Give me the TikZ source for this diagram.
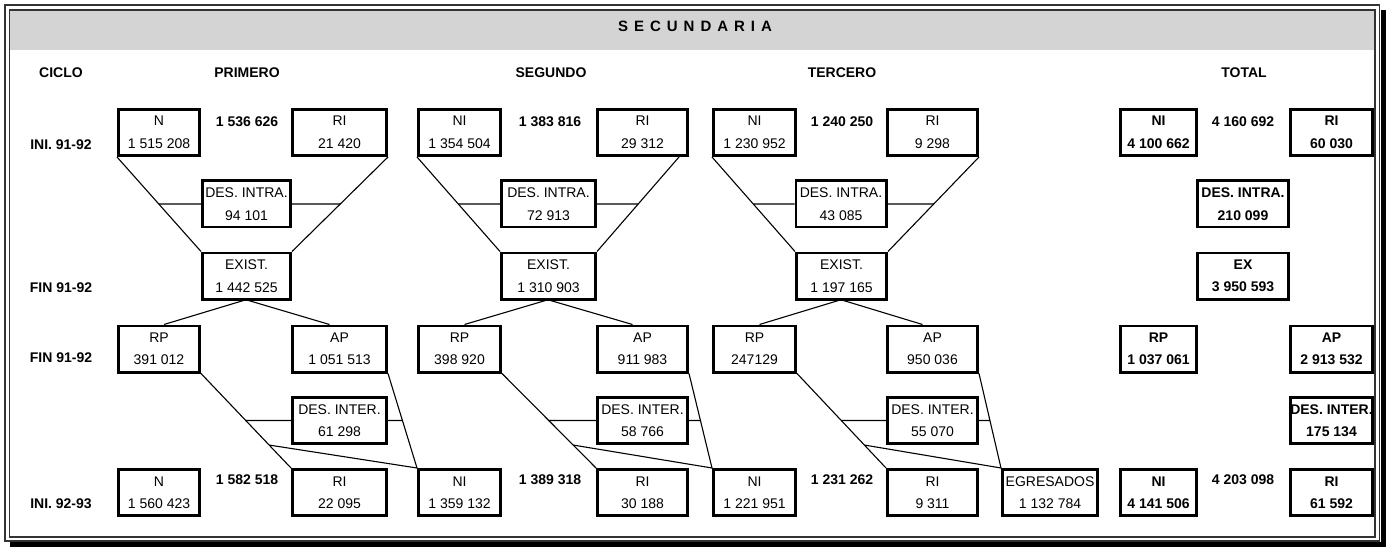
\documentclass[tikz,border=0pt]{standalone}
\usepackage{fontspec}
\setmainfont{Liberation Sans}
\begin{document}
\begin{tikzpicture}[x=1pt,y=-1pt,
  box/.style={draw, line width=2.6pt, inner sep=0pt, minimum height=46.4pt,
    align=center, font=\fontsize{14}{22.5}\selectfont},
  tbox/.style={box, font=\fontsize{14}{22.5}\selectfont\bfseries},
  lbl/.style={inner sep=0pt, font=\fontsize{14}{16}\selectfont\bfseries},
  sum/.style={inner sep=0pt, font=\fontsize{14}{16}\selectfont\bfseries},
  link/.style={line width=1.1pt},
  frameline/.style={line width=1.2pt, draw=black!80},
]
\useasboundingbox (0,0) rectangle (1392,548);

% frame with drop shadow and grey title band
\fill[black] (10,10) rectangle (1386,547);
\fill[white] (3,3) rectangle (1380.8,542.2);
\fill[black!17] (9.5,10) rectangle (1375,50);
\draw[frameline] (5,5) rectangle (1379.5,541);
\draw[frameline] (9.5,10) rectangle (1375,537);
\node[inner sep=0pt, font=\fontsize{15}{17}\selectfont\bfseries] (title) at (695,26)
  {S\kern6pt E\kern6pt C\kern6pt U\kern6pt N\kern6pt D\kern6pt A\kern6pt R\kern6pt I\kern6pt A};

% column and row headings
\node[lbl] (hciclo) at (61,73) {CICLO};
\node[lbl] (hpri) at (247,73) {PRIMERO};
\node[lbl] (hseg) at (551,73) {SEGUNDO};
\node[lbl] (hter) at (842,73) {TERCERO};
\node[lbl] (htot) at (1244,73) {TOTAL};
\node[lbl] (rini1) at (61,145) {INI. 91-92};
\node[lbl] (rfin1) at (61,288) {FIN 91-92};
\node[lbl] (rfin2) at (61,358) {FIN 91-92};
\node[lbl] (rini2) at (61,504) {INI. 92-93};

% ---------- PRIMERO ----------
\node[box, minimum width=81.4pt] (ni1) at (159,132.5) {N\\1 515 208};
\node[sum] (s1a) at (247,122) {1 536 626};
\node[box, minimum width=94.4pt] (ri1) at (339.5,132.5) {RI\\21 420};
\node[box, minimum width=88.4pt] (di1) at (246.5,204) {DES. INTRA.\\94 101};
\node[box, minimum width=88.4pt] (ex1) at (246.5,276) {EXIST.\\1 442 525};
\node[box, minimum width=81.4pt] (rp1) at (159,349) {RP\\391 012};
\node[box, minimum width=94.4pt] (ap1) at (339.5,349) {AP\\1 051 513};
\node[box, minimum width=94.4pt] (de1) at (339.5,420.5) {DES. INTER.\\61 298};
\node[box, minimum width=81.4pt] (nb1) at (159,492.5) {N\\1 560 423};
\node[sum] (s1b) at (247,480) {1 582 518};
\node[box, minimum width=94.4pt] (rb1) at (339.5,492.5) {RI\\22 095};

% ---------- SEGUNDO ----------
\node[box, minimum width=82.4pt] (ni2) at (459.5,132.5) {NI\\1 354 504};
\node[sum] (s2a) at (550,122) {1 383 816};
\node[box, minimum width=90.4pt] (ri2) at (642.5,132.5) {RI\\29 312};
\node[box, minimum width=94.4pt] (di2) at (548.5,204) {DES. INTRA.\\72 913};
\node[box, minimum width=94.4pt] (ex2) at (548.5,276) {EXIST.\\1 310 903};
\node[box, minimum width=82.4pt] (rp2) at (459.5,349) {RP\\398 920};
\node[box, minimum width=90.4pt] (ap2) at (642.5,349) {AP\\911 983};
\node[box, minimum width=90.4pt] (de2) at (642.5,420.5) {DES. INTER.\\58 766};
\node[box, minimum width=82.4pt] (nb2) at (459.5,492.5) {NI\\1 359 132};
\node[sum] (s2b) at (550,480) {1 389 318};
\node[box, minimum width=90.4pt] (rb2) at (642.5,492.5) {RI\\30 188};

% ---------- TERCERO ----------
\node[box, minimum width=82.4pt] (ni3) at (754.5,132.5) {NI\\1 230 952};
\node[sum] (s3a) at (842,122) {1 240 250};
\node[box, minimum width=90.4pt] (ri3) at (932.5,132.5) {RI\\9 298};
\node[box, minimum width=90.4pt] (di3) at (841,204) {DES. INTRA.\\43 085};
\node[box, minimum width=90.4pt] (ex3) at (841.5,276) {EXIST.\\1 197 165};
\node[box, minimum width=82.4pt] (rp3) at (754.5,349) {RP\\247129};
\node[box, minimum width=90.4pt] (ap3) at (932.5,349) {AP\\950 036};
\node[box, minimum width=90.4pt] (de3) at (932.5,420.5) {DES. INTER.\\55 070};
\node[box, minimum width=82.4pt] (nb3) at (754.5,492.5) {NI\\1 221 951};
\node[sum] (s3b) at (842,480) {1 231 262};
\node[box, minimum width=90.4pt] (rb3) at (932.5,492.5) {RI\\9 311};
\node[box, minimum width=95.4pt] (egr) at (1050,492.5) {EGRESADOS\\1 132 784};

% ---------- TOTAL ----------
\node[tbox, minimum width=76.4pt] (nit) at (1158.5,132.5) {NI\\4 100 662};
\node[sum] (sta) at (1243,122) {4 160 692};
\node[tbox, minimum width=82.4pt] (rit) at (1331.5,132.5) {RI\\60 030};
\node[tbox, minimum width=91.4pt] (dit) at (1243,204) {DES. INTRA.\\210 099};
\node[tbox, minimum width=91.4pt] (ext) at (1243,276) {EX\\3 950 593};
\node[tbox, minimum width=76.4pt] (rpt) at (1158.5,349) {RP\\1 037 061};
\node[tbox, minimum width=82.4pt] (apt) at (1331.5,349) {AP\\2 913 532};
\node[tbox, minimum width=82.4pt] (det) at (1331.5,420.5) {DES. INTER.\\175 134};
\node[tbox, minimum width=76.4pt] (nbt) at (1158.5,492.5) {NI\\4 141 506};
\node[sum] (stb) at (1243,480) {4 203 098};
\node[tbox, minimum width=82.4pt] (rbt) at (1331.5,492.5) {RI\\61 592};

% ---------- connectors ----------
\foreach \k/\nx/\rs/\rxs in {1/nb2/0/0, 2/nb3/-10/0, 3/egr/0/0} {
  % start of the year: new and repeating pupils flow into the existence box
  \draw[link] (ni\k.south west) -- (ex\k.north west);
  \draw[link] ([xshift=\rs pt]ri\k.south east) -- (ex\k.north east);
  \draw[link] (di\k.west) -- (intersection cs: first line={(ni\k.south west)--(ex\k.north west)},
                                               second line={(di\k.west)--(di\k.east)});
  \draw[link] (di\k.east) -- (intersection cs: first line={([xshift=\rs pt]ri\k.south east)--(ex\k.north east)},
                                               second line={(di\k.west)--(di\k.east)});
  % end of the year: existence splits into failed and passed
  \draw[link] ([xshift=-3pt]ex\k.south) -- ([xshift=5pt]rp\k.north);
  \draw[link] ([xshift=2pt]ex\k.south) -- ([xshift=-10pt]ap\k.north);
  % next year: failed repeat, passed move up a grade
  \draw[link] (rp\k.south east) -- (rb\k.north west);
  \draw[link] (ap\k.south east) -- (\nx.north west);
  \draw[link] (de\k.west) -- (intersection cs: first line={(rp\k.south east)--(rb\k.north west)},
                                               second line={(de\k.west)--(de\k.east)});
  \draw[link] (de\k.east) -- (intersection cs: first line={(ap\k.south east)--(\nx.north west)},
                                               second line={(de\k.west)--(de\k.east)});
  \draw[link] (intersection cs: first line={(rp\k.south east)--(rb\k.north west)},
                                second line={(de\k.south west)--(de\k.south east)}) -- (\nx.north west);
}
\end{tikzpicture}
\end{document}
